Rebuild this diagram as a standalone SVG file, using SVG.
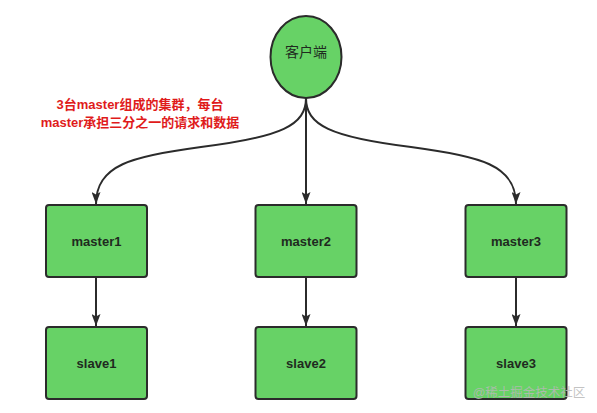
<svg xmlns="http://www.w3.org/2000/svg" width="597" height="413" viewBox="0 0 597 413">
<style>
.node{fill:#67d266;stroke:#2b2b2b;stroke-width:2}
.lbl{font-family:"Liberation Sans",Arial,sans-serif;font-weight:bold;font-size:13px;fill:#1f2a1f;text-anchor:middle;dominant-baseline:central}
.edge{fill:none;stroke:#2b2b2b;stroke-width:2;marker-end:url(#ah)}
.note{font-family:"Liberation Sans","Noto Sans CJK SC",sans-serif;font-weight:bold;font-size:13px;fill:#e01b1b;text-anchor:middle;dominant-baseline:central}
.cjk{font-family:"Liberation Sans","Noto Sans CJK SC",sans-serif;font-size:14px;fill:#1f2a1f;text-anchor:middle;dominant-baseline:central}
.wm{font-family:"Liberation Sans","Noto Sans CJK SC",sans-serif;font-size:12.5px;fill:#b8b8b8;fill-opacity:0.85;text-anchor:middle;dominant-baseline:central}
</style>
<defs>
<marker id="ah" viewBox="0 0 12 9" refX="12" refY="4.5" markerWidth="12" markerHeight="9" markerUnits="userSpaceOnUse" orient="auto">
<path d="M0,0 L12,4.5 L0,9 L2.5,4.5 Z" fill="#2b2b2b"/>
</marker>
</defs>
<rect width="597" height="413" fill="#ffffff"/>
<g id="connectors">
<path class="edge" d="M306,98 C306,125 282,137 201,147 C132,156 96,165 96,204"/>
<path class="edge" d="M306,98 L306,204"/>
<path class="edge" d="M306,98 C306,125 330,137 411,147 C480,156 516,165 516,204"/>
<path class="edge" d="M96,277 L96,326"/>
<path class="edge" d="M306,277 L306,326"/>
<path class="edge" d="M516,277 L516,326"/>
</g>
<g id="client">
<ellipse class="node" cx="306" cy="57" rx="35.5" ry="41"/>
<text class="cjk" x="306" y="52">客户端</text>
</g>
<g id="note">
<text class="note" x="140" y="104">3台master组成的集群，每台</text>
<text class="note" x="140" y="122">master承担三分之一的请求和数据</text>
</g>
<g id="master1">
<rect class="node" x="46" y="205" width="101" height="72" rx="3"/>
<text class="lbl" x="96.5" y="241">master1</text>
</g>
<g id="master2">
<rect class="node" x="255.5" y="205" width="101" height="72" rx="3"/>
<text class="lbl" x="306" y="241">master2</text>
</g>
<g id="master3">
<rect class="node" x="465.5" y="205" width="101" height="72" rx="3"/>
<text class="lbl" x="516" y="241">master3</text>
</g>
<g id="slave1">
<rect class="node" x="46" y="327" width="101" height="72" rx="3"/>
<text class="lbl" x="96.5" y="363">slave1</text>
</g>
<g id="slave2">
<rect class="node" x="255.5" y="327" width="101" height="72" rx="3"/>
<text class="lbl" x="306" y="363">slave2</text>
</g>
<g id="slave3">
<rect class="node" x="465.5" y="327" width="101" height="72" rx="3"/>
<text class="lbl" x="516" y="363">slave3</text>
</g>
<text class="wm" x="529" y="393">@稀土掘金技术社区</text>
</svg>
